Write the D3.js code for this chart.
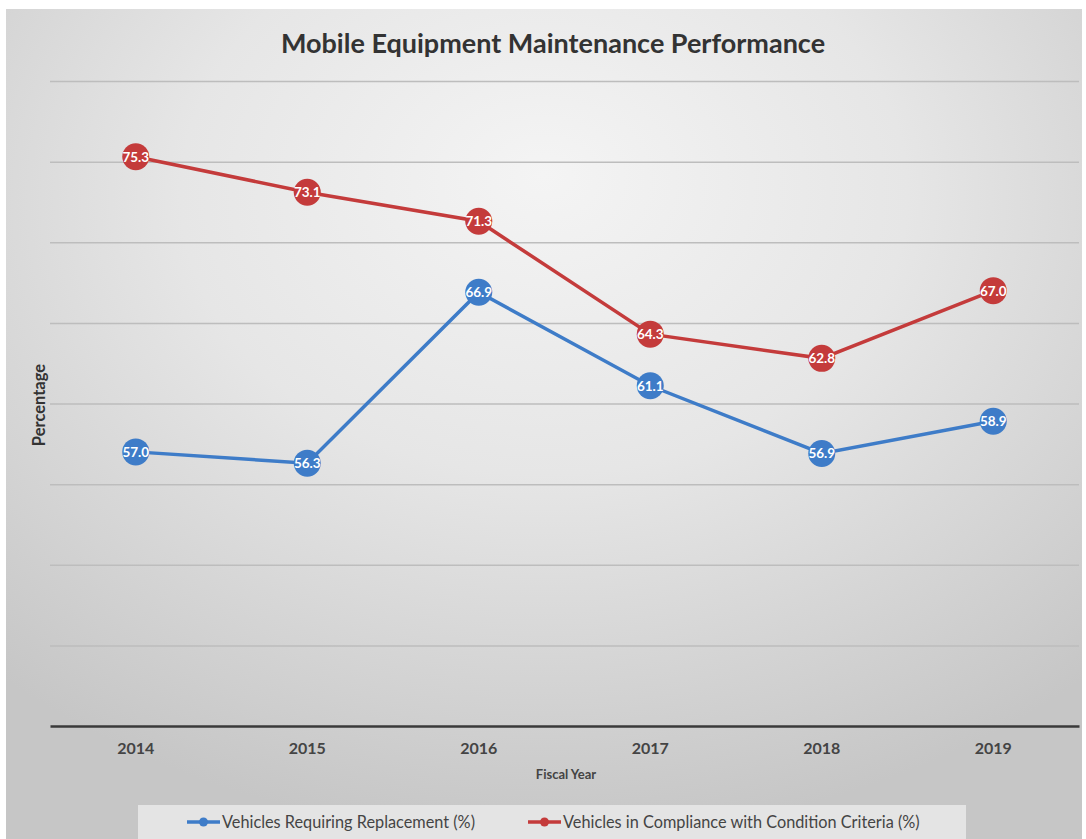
<!DOCTYPE html>
<html><head><meta charset="utf-8">
<script src="https://cdn.jsdelivr.net/npm/d3@7"></script>
<style>
html,body{margin:0;padding:0;background:#fff;}
svg{display:block;}
</style></head>
<body>
<svg id="chart" width="1086" height="839"></svg>
<script>
const years = ["2014","2015","2016","2017","2018","2019"];
const replacement = [57.0, 56.3, 66.9, 61.1, 56.9, 58.9];
const compliance = [75.3, 73.1, 71.3, 64.3, 62.8, 67.0];
const seriesNames = ["Vehicles Requiring Replacement (%)", "Vehicles in Compliance with Condition Criteria (%)"];
const gridTicks = [45, 50, 55, 60, 65, 70, 75, 80];
const title = "Mobile Equipment Maintenance Performance";

const colors = ["#3e7cc8", "#c43b3b"];
const FONT = "Lato, 'Open Sans', sans-serif";
const svg = d3.select("#chart");
const defs = svg.append("defs");
const grad = defs.append("radialGradient").attr("id","bg")
  .attr("cx","50%").attr("cy","25%").attr("r","75%").attr("fx","50%").attr("fy","20%");
grad.append("stop").attr("offset","0%").attr("stop-color","#f4f4f4");
grad.append("stop").attr("offset","45%").attr("stop-color","#e6e6e6");
grad.append("stop").attr("offset","100%").attr("stop-color","#c6c6c6");

svg.append("rect").attr("x",6).attr("y",9).attr("width",1076).attr("height",830).attr("fill","url(#bg)");

const x = d3.scaleBand().domain(years).range([50, 1079]).padding(0);
const y = d3.scaleLinear().domain([40, 80]).range([726, 81]);
const cx = d => x(d) + x.bandwidth()/2;

// gridlines
const grid = svg.append("g").attr("transform","translate(50,0)")
  .call(d3.axisLeft(y).tickValues(gridTicks).tickSize(-1029).tickFormat(""));
grid.select(".domain").remove();
grid.selectAll(".tick line").attr("stroke","#bdbdbd").attr("stroke-width",1.5);

// baseline + category labels
const xAxis = svg.append("g").attr("transform","translate(0,726)")
  .call(d3.axisBottom(x).tickSize(0).tickPadding(17));
xAxis.select(".domain").attr("stroke","#3a3a3a").attr("stroke-width",2.5);
xAxis.selectAll(".tick text").attr("font-family",FONT)
  .attr("font-weight","bold").attr("font-size","16px").attr("fill","#444");

// title
svg.append("text").attr("x",553).attr("y",53).attr("text-anchor","middle")
  .attr("font-family",FONT).attr("font-weight","bold")
  .attr("font-size","27px").attr("fill","#333").text(title);

// axis titles
svg.append("text").attr("x",566).attr("y",779).attr("text-anchor","middle")
  .attr("font-family",FONT).attr("font-weight","bold")
  .attr("font-size","13px").attr("fill","#444").text("Fiscal Year");
svg.append("text").attr("transform","translate(45,405) rotate(-90)").attr("text-anchor","middle")
  .attr("font-family",FONT).attr("font-weight","bold")
  .attr("font-size","16.5px").attr("fill","#333").text("Percentage");

// series
const series = [replacement, compliance];
const line = d3.line().x((d,i) => cx(years[i])).y(d => y(d));
series.forEach((vals, s) => {
  const g = svg.append("g");
  g.append("path").datum(vals).attr("d", line).attr("fill","none")
    .attr("stroke", colors[s]).attr("stroke-width",3.5);
  g.selectAll("circle").data(vals).join("circle")
    .attr("cx",(d,i)=>cx(years[i])).attr("cy",d=>y(d)).attr("r",13.5).attr("fill",colors[s]);
  g.selectAll("text").data(vals).join("text")
    .attr("x",(d,i)=>cx(years[i])).attr("y",d=>y(d)+5).attr("text-anchor","middle")
    .attr("font-family",FONT).attr("font-weight","bold")
    .attr("font-size","13.5px").attr("fill","#fff").text(d=>d.toFixed(1));
});

// legend
svg.append("rect").attr("x",138).attr("y",805).attr("width",828).attr("height",34).attr("fill","#e4e4e4");
const legX = [187, 528];
seriesNames.forEach((n, s) => {
  const g = svg.append("g").attr("transform",`translate(${legX[s]},822)`);
  g.append("line").attr("x1",0).attr("x2",33).attr("stroke",colors[s]).attr("stroke-width",3.5);
  g.append("circle").attr("cx",16.5).attr("r",4.5).attr("fill",colors[s]);
  g.append("text").attr("x",35).attr("y",6).attr("font-family",FONT)
    .attr("font-size","16.3px").attr("fill","#444").text(n);
});
</script>
</body></html>
